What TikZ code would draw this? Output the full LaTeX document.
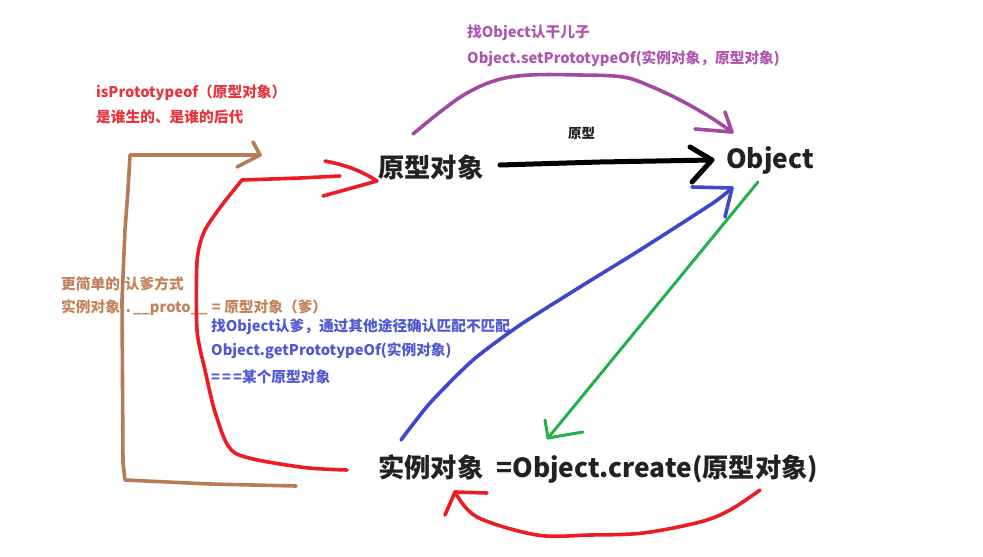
\documentclass[tikz,border=0pt]{standalone}
\usepackage{fontspec}
\setmainfont{Noto Sans CJK SC}
\definecolor{pred}{HTML}{EC1C24}
\definecolor{pbrown}{HTML}{B97A57}
\definecolor{ppurple}{HTML}{A349A4}
\definecolor{pblue}{HTML}{3F48CC}
\definecolor{pgreen}{HTML}{22B14C}
\definecolor{tred}{HTML}{E8343C}
\definecolor{tbrown}{HTML}{C2825C}
\definecolor{tpurple}{HTML}{AE55AE}
\definecolor{tblue}{HTML}{5058D2}
\definecolor{tblack}{HTML}{222222}
\begin{document}
\begin{tikzpicture}[x=1pt,y=-1pt,
  stroke/.style={line width=3.6pt, line cap=round, line join=round},
  lbl/.style={font=\bfseries\fontsize{14.7}{16}\selectfont, anchor=west, inner sep=0pt},
  big/.style={font=\bfseries\fontsize{26.3}{30}\selectfont, anchor=west, inner sep=0pt, text=tblack}]
\useasboundingbox[fill=white] (0,0) rectangle (983,557);

% ---- texts ----
\node[lbl, text=tpurple] (p1) at (467,33) {找Object认干儿子};
\node[lbl, text=tpurple] (p2) at (467,59) {Object.setPrototypeOf(实例对象，原型对象)};
\node[lbl, text=tred] (r1) at (96,93) {isPrototypeof（原型对象）};
\node[lbl, text=tred] (r2) at (96,117) {是谁生的、是谁的后代};
\node[lbl, text=tblack, font=\bfseries\fontsize{13.5}{15}\selectfont] (yx) at (568,133) {原型};
\node[big] (proto) at (378,167) {原型对象};
\node[big] (obj) at (726,160) {Object};
\node[lbl, text=tbrown] (b1) at (61,284) {更简单的\hspace{5pt}认爹方式};
\node[lbl, text=tbrown] (b2) at (61,308) {实例对象\hspace{6pt}.\hspace{2pt}\_\_proto\_\_\hspace{1pt} = 原型对象（爹）};
\node[lbl, text=tblue] (u1) at (211,327) {找Object认爹，通过其他途径确认匹配不匹配};
\node[lbl, text=tblue] (u2) at (211,351) {Object.getPrototypeOf(实例对象)};
\node[lbl, text=tblue] (u3) at (211,377) {=\hspace{2pt}=\hspace{2pt}=某个原型对象};
\node[big] (inst) at (378,469) {实例对象\hspace{13pt}=Object.create(原型对象)};

% ---- named points ----
\coordinate (bt) at (260,155);
\coordinate (bs) at (296,486);
\coordinate (rs) at (347,470);
\coordinate (rt) at (377,181);
\coordinate (ps) at (413,134);
\coordinate (pt) at (732,132);
\coordinate (ks) at (500,165);
\coordinate (kt) at (712,160);
\coordinate (us) at (401,440);
\coordinate (ut) at (732,188);
\coordinate (gs) at (758,182);
\coordinate (gt) at (548,438);
\coordinate (ds) at (760,490);
\coordinate (dt) at (455,492);

% ---- brown: __proto__ ----
\draw[stroke, pbrown] (bs) -- (210,484) -- (125,480) -- (123,463) -- (122,300)
  -- (125,230) -- (128,190) -- (130,155) -- (bt);
\draw[stroke, pbrown] (253,142) -- (bt) -- (237,167);

% ---- red left: isPrototypeOf ----
\draw[stroke, pred] plot[smooth, tension=0.45] coordinates {(rs) (300,467) (235,453) (216,415)
  (205,370) (197,330) (197,262) (204,232) (222,205) (242,180)} -- (300,178) -- (340,176);
\draw[stroke, pred] (325,161) .. controls (345,165) and (360,170) .. (rt) -- (323,196);

% ---- purple: setPrototypeOf ----
\draw[stroke, ppurple] plot[smooth, tension=0.6] coordinates {(ps) (440,112) (467,93) (497,80)
  (530,75) (580,75) (623,77) (650,86) (680,100) (710,117) (pt)};
\draw[stroke, ppurple] (725,112) -- (pt) -- (695,129);

% ---- black: 原型 ----
\draw[line width=5pt, line cap=round, line join=round, black] (ks) -- (600,162) -- (kt);
\draw[line width=5pt, line cap=round, line join=round, black] (690,147) -- (kt) -- (692,182);

% ---- blue: getPrototypeOf ----
\draw[stroke, pblue] plot[smooth, tension=0.4] coordinates {(us) (430,403)
  (473,360) (520,325) (580,287) (640,250) (713,203) (ut)};
\draw[stroke, pblue] (692,187) -- (ut) -- (725,217);

% ---- green: Object.create ----
\draw[line width=3pt, line cap=round, line join=round, pgreen] (gs) -- (gt);
\draw[line width=3pt, line cap=round, line join=round, pgreen] (545,420) -- (gt) -- (583,432);

% ---- red bottom ----
\draw[stroke, pred] plot[smooth, tension=0.55] coordinates {(ds) (730,510) (700,522)
  (643,533) (590,535) (537,535) (477,517) (dt)};
\draw[stroke, pred] (445,515) -- (dt) -- (487,493);
\end{tikzpicture}
\end{document}
